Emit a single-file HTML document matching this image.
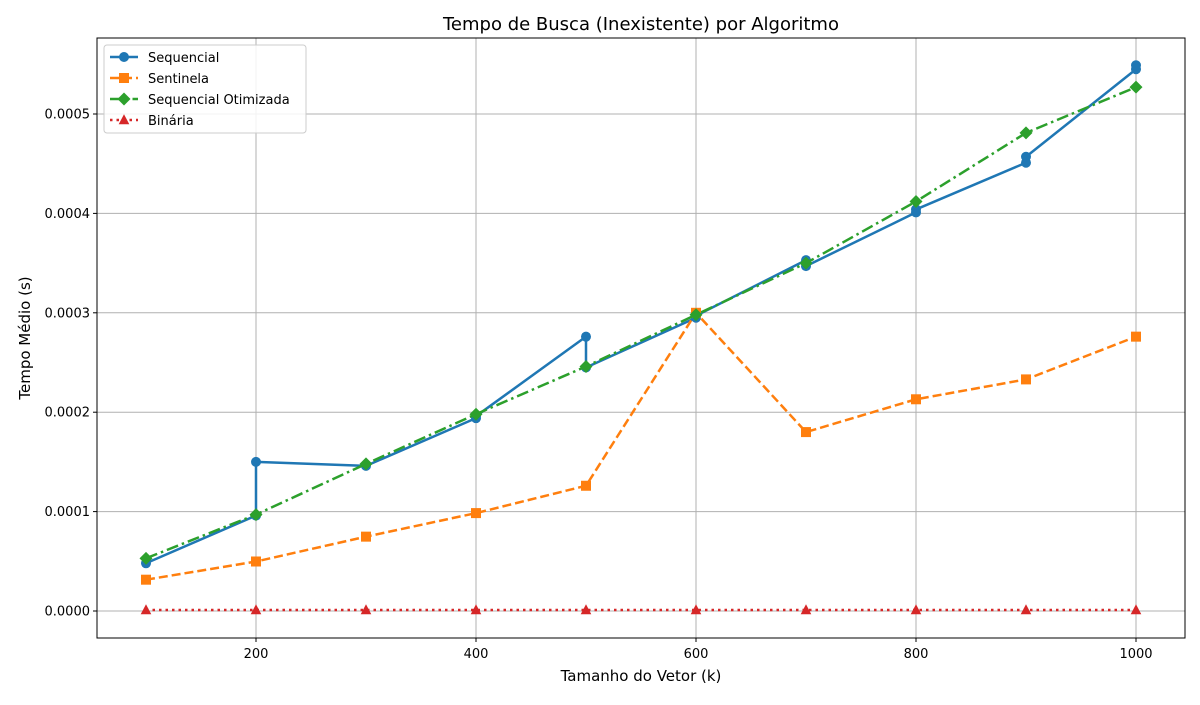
<!DOCTYPE html>
<html><head><meta charset="utf-8"><style>
body{margin:0;background:#fff;font-family:"Liberation Sans","DejaVu Sans",sans-serif}
svg text{font-family:"DejaVu Sans","Liberation Sans",sans-serif}
</style></head><body>
<svg id="chart" width="1200" height="700" viewBox="0 0 1200 700" xmlns="http://www.w3.org/2000/svg"></svg>
<script>
const xTicks=[200,400,600,800,1000];
const yTicks=[0,0.0001,0.0002,0.0003,0.0004,0.0005];
const yTickLabels=["0.0000","0.0001","0.0002","0.0003","0.0004","0.0005"];
const seqX=[100,200,200,300,400,400,500,500,600,600,700,700,800,800,900,900,1000,1000];
const seqY=[0.000048,0.000096,0.000150,0.000146,0.000194,0.000196,0.000276,0.000245,0.000295,0.000297,0.000353,0.000347,0.000401,0.000404,0.000451,0.000457,0.000545,0.000549];
const sizes=[100,200,300,400,500,600,700,800,900,1000];
const sentY=[0.0000315,0.0000498,0.0000748,0.0000985,0.000126,0.000300,0.000180,0.000213,0.000233,0.000276];
const otimY=[0.000053,0.000097,0.000148,0.000198,0.000246,0.000298,0.000350,0.000412,0.000481,0.000527];
const binY=[0.000001,0.000001,0.000001,0.000001,0.000001,0.000001,0.000001,0.000001,0.000001,0.000001];

const L=97,R=1185,T=38,B=638;
const sx=v=>146+(v-100)*1.1;
const sy=v=>611-v*994000;
const NS="http://www.w3.org/2000/svg";
const svg=document.getElementById('chart');
function mk(tag,attrs,parent){const e=document.createElementNS(NS,tag);for(const k in attrs)e.setAttribute(k,attrs[k]);(parent||svg).appendChild(e);return e;}

xTicks.forEach(t=>{const l=mk('line',{x1:sx(t),x2:sx(t),y1:T,y2:B,stroke:'#b0b0b0','stroke-width':1});

});
yTicks.forEach(t=>{const l=mk('line',{x1:L,x2:R,y1:sy(t),y2:sy(t),stroke:'#b0b0b0','stroke-width':1});

});

function marker(kind,x,y,color,g){
  if(kind==='o') return mk('circle',{cx:x,cy:y,r:5,fill:color},g);
  if(kind==='s') return mk('rect',{x:x-5,y:y-5,width:10,height:10,fill:color},g);
  if(kind==='D') return mk('polygon',{points:`${x},${y-6.5} ${x+6.5},${y} ${x},${y+6.5} ${x-6.5},${y}`,fill:color},g);
  if(kind==='^') return mk('polygon',{points:`${x},${y-5.8} ${x+5.3},${y+4.2} ${x-5.3},${y+4.2}`,fill:color},g);
}
function series(name,xs,ys,color,dash,kind){
  const g=mk('g',{});
  
  
  const pts=xs.map((x,i)=>sx(x)+','+sy(ys[i])).join(' ');
  mk('polyline',{points:pts,fill:'none',stroke:color,'stroke-width':2.5,'stroke-dasharray':dash,'stroke-linejoin':'round'},g);
  xs.forEach((x,i)=>{const m=marker(kind,sx(x),sy(ys[i]),color,g);
    
    });
}
series('series-sequencial',seqX,seqY,'#1f77b4','none','o');
series('series-sentinela',sizes,sentY,'#ff7f0e','9,4','s');
series('series-otimizada',sizes,otimY,'#2ca02c','12,4,2.5,4','D');
series('series-binaria',sizes,binY,'#d62728','2.5,4','^');

const fr=mk('rect',{x:L,y:T,width:R-L,height:B-T,fill:'none',stroke:'#000','stroke-width':1});


xTicks.forEach(t=>{mk('line',{x1:sx(t),x2:sx(t),y1:B,y2:B+4,stroke:'#000'});
const tx=mk('text',{x:sx(t),y:B+20,'text-anchor':'middle','font-size':13,fill:'#000'});tx.textContent=t;

});
yTicks.forEach((t,i)=>{mk('line',{x1:L-4,x2:L,y1:sy(t),y2:sy(t),stroke:'#000'});
const tx=mk('text',{x:L-7,y:sy(t)+4.5,'text-anchor':'end','font-size':13,fill:'#000'});tx.textContent=yTickLabels[i];

});
</script>
<svg style="position:absolute;left:0;top:0" width="1200" height="700">
<text x="641" y="30" text-anchor="middle" font-size="18" font-family="DejaVu Sans, Liberation Sans, sans-serif">Tempo de Busca (Inexistente) por Algoritmo</text>
<text x="641" y="681" text-anchor="middle" font-size="15" font-family="DejaVu Sans, Liberation Sans, sans-serif">Tamanho do Vetor (k)</text>
<text transform="translate(30,338) rotate(-90)" text-anchor="middle" font-size="15" font-family="DejaVu Sans, Liberation Sans, sans-serif">Tempo Médio (s)</text>
<g font-family="DejaVu Sans, Liberation Sans, sans-serif" font-size="13">
<rect x="104" y="45" width="202" height="88" rx="3" fill="#fff" fill-opacity="0.85" stroke="#ccc"/>
<g><line x1="110" x2="138" y1="57" y2="57" stroke="#1f77b4" stroke-width="2.5"/><circle cx="124" cy="57" r="5" fill="#1f77b4"/><text x="148" y="62">Sequencial</text></g>
<g><line x1="110" x2="138" y1="78" y2="78" stroke="#ff7f0e" stroke-width="2.5" stroke-dasharray="9,4"/><rect x="119" y="73" width="10" height="10" fill="#ff7f0e"/><text x="148" y="83">Sentinela</text></g>
<g><line x1="110" x2="138" y1="99" y2="99" stroke="#2ca02c" stroke-width="2.5" stroke-dasharray="12,4,2.5,4"/><polygon points="124,92.5 130.5,99 124,105.5 117.5,99" fill="#2ca02c"/><text x="148" y="104">Sequencial Otimizada</text></g>
<g><line x1="110" x2="138" y1="120" y2="120" stroke="#d62728" stroke-width="2.5" stroke-dasharray="2.5,4"/><polygon points="124,114.2 129.3,124.2 118.7,124.2" fill="#d62728"/><text x="148" y="125">Binária</text></g>
</g>
</svg>
</body></html>
